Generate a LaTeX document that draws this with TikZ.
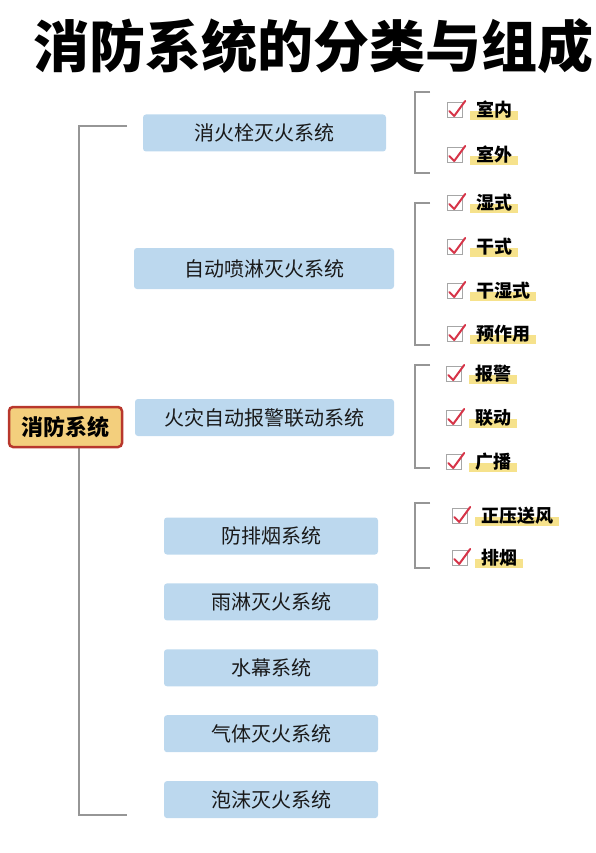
\documentclass[tikz,border=0pt]{standalone}
\usepackage{fontspec}
\setmainfont{Noto Sans CJK SC}
\usetikzlibrary{positioning,backgrounds}
\definecolor{sysblue}{RGB}{188,216,238}
\definecolor{rootfill}{RGB}{243,207,125}
\definecolor{rootedge}{RGB}{184,55,44}
\definecolor{tickred}{RGB}{214,52,72}
\definecolor{markyellow}{RGB}{246,226,140}
\definecolor{braceline}{RGB}{150,150,150}

\begin{document}
\begin{tikzpicture}[x=1pt,y=-1pt]
    \def\bx{415}
    \def\stub{15}
    \tikzset{
      sys/.style={fill=sysblue, rounded corners=3pt, minimum height=37pt,
        font=\fontsize{20}{22}\selectfont, text=black!90},
      root/.style={fill=rootfill, draw=rootedge, line width=2.5pt, rounded corners=4pt,
        minimum width=113pt, minimum height=40pt, font=\fontsize{22}{24}\selectfont\bfseries},
      item/.style={anchor=west, inner xsep=4pt, inner ysep=1pt,
        font=\fontsize{18}{20}\selectfont\bfseries},
      chkbox/.style={draw=gray!70, line width=0.8pt, minimum size=15pt, inner sep=0pt},
      brace/.style={draw=braceline, line width=1.2pt},
      tick/.style={draw=tickred, line width=2pt, line cap=round, line join=round}
    }
    \useasboundingbox (0,0) rectangle (596,853);
    % Title
    \node[anchor=west, inner sep=0pt, font=\fontsize{56}{60}\selectfont\bfseries] (title)
      at (33,46) {消防系统的分类与组成};
    % Left bracket (behind the root)
    \coordinate (lt) at (127,126);
    \coordinate (lb) at (127,815);
    \draw[brace] (lt) -- ++(-48,0) |- (lb);
    % Root
    \node[root] (fire) at (65.5,427) {消防系统};
    % Systems
    \node[sys, minimum width=243pt] (hydrant) at (264.5,133) {消火栓灭火系统};
    \node[sys, minimum width=260pt, minimum height=41pt] (sprinkler) at (264,268.5) {自动喷淋灭火系统};
    \node[sys, minimum width=259pt] (alarmsys) at (264.5,417.5) {火灾自动报警联动系统};
    \node[sys, minimum width=214pt] (smokesys) at (271,536) {防排烟系统};
    \node[sys, minimum width=214pt, below=28.5pt of smokesys] (deluge) {雨淋灭火系统};
    \node[sys, minimum width=214pt, below=28.5pt of deluge] (curtain) {水幕系统};
    \node[sys, minimum width=214pt, below=28.5pt of curtain] (gas) {气体灭火系统};
    \node[sys, minimum width=214pt, below=28.5pt of gas] (foam) {泡沫灭火系统};
    % Right brackets
    \coordinate (g1t) at (\bx+\stub,92);  \coordinate (g1b) at (\bx+\stub,173);
    \coordinate (g2t) at (\bx+\stub,203); \coordinate (g2b) at (\bx+\stub,345);
    \coordinate (g3t) at (\bx+\stub,365); \coordinate (g3b) at (\bx+\stub,468);
    \coordinate (g4t) at (\bx+\stub,503); \coordinate (g4b) at (\bx+\stub,568);
    \foreach \g in {g1,g2,g3,g4}
      \draw[brace] (\g t) -- ++(-\stub,0) |- (\g b);
    % Items
    \node[item] (indoor)  at (472,110) {室内};
    \node[item] (outdoor) at (472,155) {室外};
    \node[item] (wet)     at (472,203) {湿式};
    \node[item] (dry)     at (472,247) {干式};
    \node[item] (drywet)  at (472,291) {干湿式};
    \node[item] (preact)  at (472,334) {预作用};
    \node[item] (alarm)   at (471,374) {报警};
    \node[item] (link)    at (471,418) {联动};
    \node[item] (bcast)   at (471,462) {广播};
    \node[item] (press)   at (477,516) {正压送风};
    \node[item] (smoke)   at (477,558) {排烟};
    % Check boxes and highlights
    \foreach \n in {indoor,outdoor,wet,dry,drywet,preact,alarm,link,bcast,press,smoke} {
      \node[chkbox, left=9pt of \n] (\n-box) {};
      \draw[tick] (\n-box.west) ++(2,1) -- ++(5,5) -- ++(11,-15);
      \begin{scope}[on background layer]
        \fill[markyellow] ([xshift=-2pt,yshift=-1pt]\n.west) rectangle ([xshift=2pt]\n.south east);
      \end{scope}
    }
\end{tikzpicture}
\end{document}
